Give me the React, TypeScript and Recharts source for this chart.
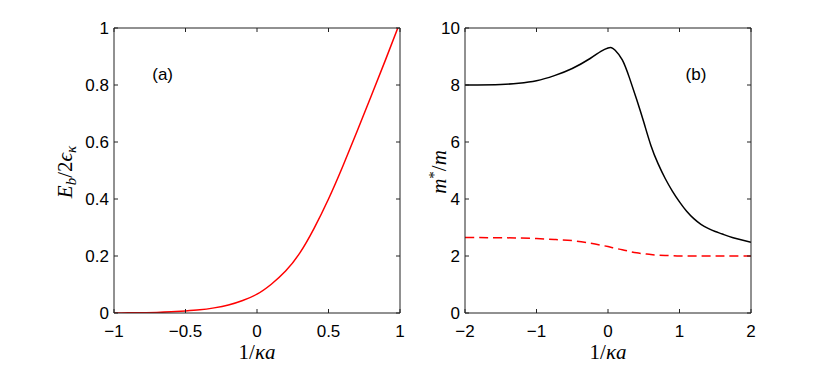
import React from 'react'
import { LineChart, Line, XAxis, YAxis, Label, ReferenceDot } from 'recharts'

// panel (a): binding energy
const bindX = [-1, -0.9, -0.8, -0.7, -0.6, -0.5, -0.4, -0.3, -0.2, -0.1, 0, 0.1, 0.2, 0.3, 0.4, 0.5, 0.6, 0.7, 0.8, 0.9, 1]
const bindY = [0, 0.0005, 0.001, 0.002, 0.004, 0.007, 0.011, 0.018, 0.028, 0.044, 0.066, 0.101, 0.147, 0.211, 0.298, 0.4, 0.515, 0.638, 0.763, 0.89, 1.02]

// panel (b): effective mass
const massX = [-2, -1.5, -1.25, -1, -0.75, -0.5, -0.25, -0.1, 0, 0.05, 0.1, 0.2, 0.3, 0.4, 0.5, 0.6, 0.7, 0.8, 0.9, 1, 1.1, 1.2, 1.3, 1.4, 1.5, 1.6, 1.75, 2]
const massSolid = [8.0, 8.02, 8.06, 8.15, 8.33, 8.58, 8.93, 9.18, 9.3, 9.31, 9.22, 8.88, 8.25, 7.5, 6.7, 5.88, 5.24, 4.72, 4.28, 3.9, 3.57, 3.31, 3.11, 2.97, 2.86, 2.77, 2.64, 2.48]
const massDashed = [2.65, 2.64, 2.63, 2.61, 2.58, 2.54, 2.45, 2.38, 2.33, 2.3, 2.27, 2.22, 2.16, 2.11, 2.08, 2.05, 2.03, 2.02, 2.01, 2.0, 2.0, 2.0, 2.0, 2.0, 2.0, 2.0, 2.0, 2.0]

const ticksA = [-1, -0.5, 0, 0.5, 1]
const ticksAY = [0, 0.2, 0.4, 0.6, 0.8, 1]
const ticksB = [-2, -1, 0, 1, 2]
const ticksBY = [0, 2, 4, 6, 8, 10]

const bindData = bindX.map((x, i) => ({ x, y: bindY[i] }))
const massData = massX.map((x, i) => ({ x, solid: massSolid[i], dashed: massDashed[i] }))

const fmt = (v: number) => (v < 0 ? '\u2212' + Math.abs(v) : String(v))
const sans = 'Liberation Sans, Arial, sans-serif'
const mathFont = 'Liberation Serif, DejaVu Serif, serif'
const axisColor = '#222'
const CHART_W = 411
const CHART_H = 375
const TOP = 28
const X_AXIS_H = 62
const TICK = 4

function XTick({ x, y, payload }: any) {
  return (
    <text x={x} y={y + 12} textAnchor="middle" fontFamily={sans} fontSize={17} fill="#000">
      {fmt(payload.value)}
    </text>
  )
}

function YTick({ x, y, payload }: any) {
  return (
    <text x={x} y={y + 6} textAnchor="end" fontFamily={sans} fontSize={17} fill="#000">
      {fmt(payload.value)}
    </text>
  )
}

// top and right sides of the box with inward ticks, laid over the chart
function BoxOverlay({ left, right, xTicks, xDomain, yTicks, yDomain }: any) {
  const top = TOP
  const bottom = CHART_H - X_AXIS_H
  const [x0, x1] = xDomain
  const [y0, y1] = yDomain
  let d = `M${left},${top}H${right}V${bottom}`
  xTicks.forEach((t: number) => {
    const px = left + ((t - x0) / (x1 - x0)) * (right - left)
    d += `M${px},${top}v${TICK}`
  })
  yTicks.forEach((t: number) => {
    const py = bottom - ((t - y0) / (y1 - y0)) * (bottom - top)
    d += `M${right},${py}h${-TICK}`
  })
  return (
    <svg
      width={CHART_W}
      height={CHART_H}
      style={{ position: 'absolute', left: 0, top: 0, pointerEvents: 'none' }}
    >
      <path d={d} stroke={axisColor} strokeWidth={1} fill="none" />
    </svg>
  )
}

function Panel({ data, xTicks, xDomain, yTicks, yDomain, yWidth, marginRight, yLabel, tag, tagAt, children }: any) {
  return (
    <div style={{ position: 'relative', width: CHART_W, height: CHART_H }}>
      <LineChart width={CHART_W} height={CHART_H} data={data} margin={{ top: TOP, right: marginRight, bottom: 0, left: 0 }}>
        <XAxis
          dataKey="x"
          type="number"
          domain={xDomain}
          ticks={xTicks}
          tick={<XTick />}
          tickSize={-TICK}
          tickMargin={16}
          height={X_AXIS_H}
          stroke={axisColor}
          allowDataOverflow
        >
          <Label
            content={({ viewBox }: any) => (
              <text
                x={viewBox.x + viewBox.width / 2}
                y={viewBox.y + 46}
                textAnchor="middle"
                fontFamily={mathFont}
                fontSize={21}
                fill="#000"
              >
                1/<tspan fontStyle="italic">κa</tspan>
              </text>
            )}
          />
        </XAxis>
        <YAxis
          type="number"
          domain={yDomain}
          ticks={yTicks}
          tick={<YTick />}
          tickSize={-TICK}
          tickMargin={9}
          width={yWidth}
          stroke={axisColor}
          allowDataOverflow
        >
          <Label content={yLabel} />
        </YAxis>
        <ReferenceDot
          x={tagAt[0]}
          y={tagAt[1]}
          r={1}
          fill="none"
          stroke="none"
          ifOverflow="visible"
          label={{
            content: ({ viewBox }: any) => (
              <text x={viewBox.x + viewBox.width / 2} y={viewBox.y + viewBox.height / 2 + 6} textAnchor="middle" fontFamily={sans} fontSize={17} fill="#000">
                {tag}
              </text>
            ),
          }}
        />
        {children}
      </LineChart>
      <BoxOverlay
        left={yWidth}
        right={CHART_W - marginRight}
        xTicks={xTicks}
        xDomain={xDomain}
        yTicks={yTicks}
        yDomain={yDomain}
      />
    </div>
  )
}

export default function App() {
  return (
    <div style={{ position: 'absolute', left: 0, top: 0, width: 822, height: 375, background: '#fff', display: 'flex' }}>
      <Panel
        data={bindData}
        xTicks={ticksA}
        xDomain={[-1, 1]}
        yTicks={ticksAY}
        yDomain={[0, 1]}
        yWidth={114}
        marginRight={11}
        tag="(a)"
        tagAt={[-0.66, 0.84]}
        yLabel={() => (
          <text
            transform="translate(72,172) rotate(-90)"
            textAnchor="middle"
            fontFamily={mathFont}
            fontSize={21}
            fill="#000"
          >
            <tspan fontStyle="italic">E</tspan>
            <tspan fontStyle="italic" fontSize={15} dy={4}>b</tspan>
            <tspan dy={-4}>/2</tspan>
            <tspan fontStyle="italic">ϵ</tspan>
            <tspan fontStyle="italic" fontSize={15} dy={4}>κ</tspan>
          </text>
        )}
      >
        <Line
          dataKey="y"
          type="natural"
          stroke="#ff0000"
          strokeWidth={1.5}
          dot={false}
          isAnimationActive={false}
        />
      </Panel>
      <Panel
        data={massData}
        xTicks={ticksB}
        xDomain={[-2, 2]}
        yTicks={ticksBY}
        yDomain={[0, 10]}
        yWidth={54}
        marginRight={71}
        tag="(b)"
        tagAt={[1.23, 8.4]}
        yLabel={() => (
          <text
            transform="translate(35,172) rotate(-90)"
            textAnchor="middle"
            fontFamily={mathFont}
            fontSize={21}
            fill="#000"
          >
            <tspan fontStyle="italic">m</tspan>
            <tspan fontSize={15} dy={-7}>*</tspan>
            <tspan dy={7}>/</tspan>
            <tspan fontStyle="italic">m</tspan>
          </text>
        )}
      >
        <Line
          dataKey="solid"
          type="natural"
          stroke="#000"
          strokeWidth={1.5}
          dot={false}
          isAnimationActive={false}
        />
        <Line
          dataKey="dashed"
          type="natural"
          stroke="#ff0000"
          strokeWidth={1.5}
          strokeDasharray="9 5"
          dot={false}
          isAnimationActive={false}
        />
      </Panel>
    </div>
  )
}
